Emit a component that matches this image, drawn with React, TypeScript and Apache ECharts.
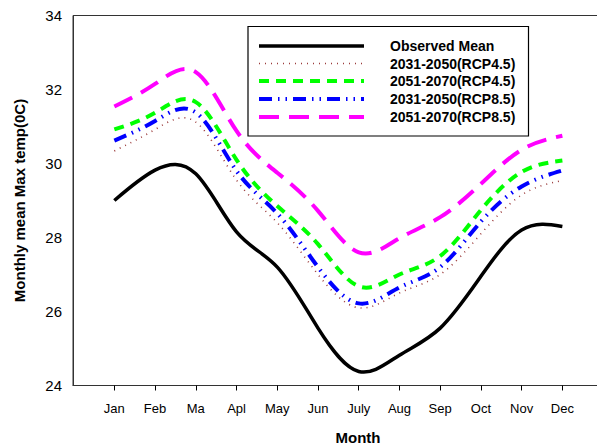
import React, { useEffect, useRef } from "react";
import * as echarts from "echarts";

const months = ["Jan", "Feb", "Ma", "Apl", "May", "Jun", "July", "Aug", "Sep", "Oct", "Nov", "Dec"];
const observedMean = [29.0, 29.82, 29.72, 28.15, 27.2, 25.55, 24.38, 24.82, 25.55, 26.95, 28.2, 28.3];
const rcp45_2031 = [30.34, 30.92, 31.12, 29.55, 28.4, 27.0, 26.1, 26.5, 27.0, 28.1, 29.15, 29.54];
const rcp45_2051 = [30.92, 31.37, 31.66, 30.1, 28.85, 27.82, 26.68, 27.0, 27.5, 28.74, 29.77, 30.08];
const rcp85_2031 = [30.62, 31.15, 31.38, 29.8, 28.65, 27.2, 26.22, 26.65, 27.2, 28.43, 29.38, 29.81];
const rcp85_2051 = [31.54, 32.15, 32.47, 30.88, 29.75, 28.72, 27.6, 27.98, 28.55, 29.45, 30.37, 30.75];
const yTicks = [24, 26, 28, 30, 32, 34];

const seriesNames = [
  "Observed Mean",
  "2031-2050(RCP4.5)",
  "2051-2070(RCP4.5)",
  "2031-2050(RCP8.5)",
  "2051-2070(RCP8.5)",
];

const FONT = "'Liberation Sans', Arial, sans-serif";

// natural cubic spline slopes through pixel points (uniform x spacing)
function splineSlopes(pts: number[][]) {
  const n = pts.length;
  const d: number[] = new Array(n).fill(0);
  if (n < 3) return d;
  const h = pts[1][0] - pts[0][0];
  const a: number[] = [], b: number[] = [], c: number[] = [], r: number[] = [];
  for (let i = 0; i < n; i++) {
    if (i === 0) {
      a.push(0); b.push(2); c.push(1); r.push((3 * (pts[1][1] - pts[0][1])) / h);
    } else if (i === n - 1) {
      a.push(1); b.push(2); c.push(0); r.push((3 * (pts[n - 1][1] - pts[n - 2][1])) / h);
    } else {
      a.push(1); b.push(4); c.push(1); r.push((3 * (pts[i + 1][1] - pts[i - 1][1])) / h);
    }
  }
  const cp = c.slice(), rp = r.slice();
  cp[0] = c[0] / b[0];
  rp[0] = r[0] / b[0];
  for (let i = 1; i < n; i++) {
    const m = b[i] - a[i] * cp[i - 1];
    cp[i] = c[i] / m;
    rp[i] = (r[i] - a[i] * rp[i - 1]) / m;
  }
  d[n - 1] = rp[n - 1];
  for (let i = n - 2; i >= 0; i--) d[i] = rp[i] - cp[i] * d[i + 1];
  return d;
}

echarts.graphic.registerShape(
  "splineCurve",
  (echarts.graphic as any).extendShape({
    shape: { pts: [] as number[][] },
    buildPath(ctx: any, shape: any) {
      const pts: number[][] = shape.pts;
      if (!pts || pts.length < 2) return;
      const d = splineSlopes(pts);
      ctx.moveTo(pts[0][0], pts[0][1]);
      for (let i = 0; i < pts.length - 1; i++) {
        const h = pts[i + 1][0] - pts[i][0];
        ctx.bezierCurveTo(
          pts[i][0] + h / 3,
          pts[i][1] + (h * d[i]) / 3,
          pts[i + 1][0] - h / 3,
          pts[i + 1][1] - (h * d[i + 1]) / 3,
          pts[i + 1][0],
          pts[i + 1][1]
        );
      }
    },
  })
);

export default function App() {
  const ref = useRef<HTMLDivElement>(null);
  useEffect(() => {
    if (!ref.current) return;
    const chart = echarts.init(ref.current, null, { renderer: "svg" });
    const toPts = (arr: number[]) => arr.map((v, i) => [i, v]);
    const styles: any[] = [
      { color: "#000000", width: 3.5, type: "solid" },
      { color: "#9b3b3b", width: 1.6, type: [1, 5] },
      { color: "#00ff00", width: 4, type: [10, 7] },
      { color: "#0000ff", width: 4, type: [13, 6, 1.5, 6, 1.5, 6] },
      { color: "#ff00ff", width: 4, type: [20, 10] },
    ];
    const datas = [observedMean, rcp45_2031, rcp45_2051, rcp85_2031, rcp85_2051];
    const series = datas.map((d, k) => ({
      name: seriesNames[k],
      type: "custom",
      data: toPts(d),
      encode: { x: 0, y: 1 },
      z: 10 - k,
      renderItem: (params: any, api: any) => {
        if (params.dataIndex !== 0) return null;
        const pts = d.map((v, i) => api.coord([i, v]));
        return {
          type: "splineCurve",
          shape: { pts },
          style: {
            fill: null,
            stroke: styles[k].color,
            lineWidth: styles[k].width,
            lineDash: styles[k].type === "solid" ? null : styles[k].type,
          },
        };
      },
    }));

    const lx0 = 259, lx1 = 364, tx = 390;
    const rowsY = [46, 63.5, 81, 99, 117];
    const legendEls: any[] = [
      {
        type: "rect",
        shape: { x: 248, y: 26.5, width: 280.5, height: 109.5 },
        style: { fill: "#ffffff", stroke: "#000000", lineWidth: 1.2 },
        z: 100,
      },
    ];
    rowsY.forEach((y, k) => {
      legendEls.push({
        type: "line",
        shape: { x1: lx0, y1: y, x2: lx1, y2: y },
        style: {
          stroke: styles[k].color,
          lineWidth: styles[k].width,
          lineDash: styles[k].type === "solid" ? null : styles[k].type,
        },
        z: 101,
      });
      legendEls.push({
        type: "text",
        x: tx,
        y: y,
        style: {
          text: seriesNames[k],
          font: `bold 14px ${FONT}`,
          fill: "#000000",
          verticalAlign: "middle",
          align: "left",
        },
        z: 101,
      });
    });

    chart.setOption({
      animation: false,
      backgroundColor: "#ffffff",
      grid: {
        left: 73,
        top: 15.5,
        width: 570,
        height: 370,
        show: true,
        borderColor: "#333333",
        borderWidth: 1,
        backgroundColor: "transparent",
        outerBoundsMode: "none",
        containLabel: false,
      },
      xAxis: {
        type: "value",
        min: -1.015,
        max: -1.015 + 570 / 40.73,
        splitLine: { show: false },
        axisLine: { show: true, onZero: false, lineStyle: { color: "#333333", width: 1 } },
        axisTick: {
          show: true,
          length: 5,
          inside: false,
          customValues: months.map((_, i) => i),
          lineStyle: { color: "#000000" },
        },
        axisLabel: {
          customValues: months.map((_, i) => i),
          formatter: (v: number) => months[Math.round(v)] ?? "",
          fontFamily: FONT,
          fontSize: 13,
          color: "#000000",
          margin: 16,
        },
        name: "Month",
        nameLocation: "middle",
        nameGap: 44,
        nameTextStyle: { fontFamily: FONT, fontSize: 15, fontWeight: "bold", color: "#000000" },
      },
      yAxis: {
        type: "value",
        min: 24,
        max: 34,
        interval: 2,
        splitLine: { show: false },
        axisLine: { show: true, onZero: false, lineStyle: { color: "#333333", width: 1 } },
        axisTick: { show: false },
        axisLabel: {
          customValues: yTicks,
          fontFamily: FONT,
          fontSize: 15,
          color: "#000000",
          margin: 11,
        },
        name: "Monthly mean Max temp(0C)",
        nameLocation: "middle",
        nameGap: 46,
        nameTextStyle: { fontFamily: FONT, fontSize: 15, fontWeight: "bold", color: "#000000" },
      },
      series,
      graphic: legendEls,
    });
    return () => chart.dispose();
  }, []);
  return <div ref={ref} style={{ width: 597, height: 448, position: "absolute", left: 0, top: 0 }} />;
}
